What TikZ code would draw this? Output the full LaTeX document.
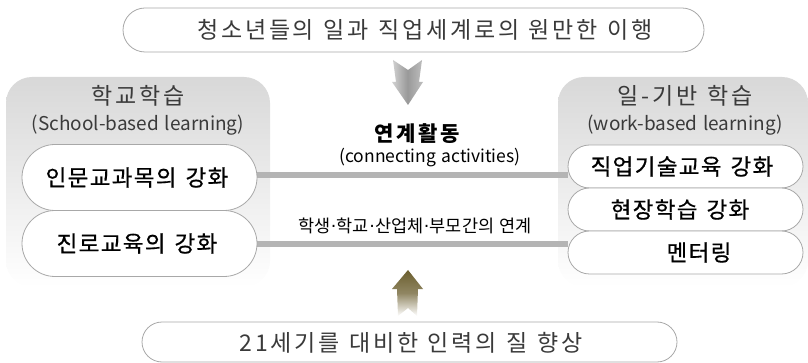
\documentclass[tikz,border=0pt]{standalone}
\usepackage{fontspec}
\setmainfont{Noto Sans CJK KR}
\newfontfamily\krs[LetterSpace=12]{Noto Sans CJK KR}
\newfontfamily\krb[LetterSpace=6,FakeBold=0.7]{Noto Sans CJK KR}
\newfontfamily\krn{Noto Sans CJK KR}
\newfontfamily\dv{DejaVu Sans}
\usetikzlibrary{shapes.misc}
\pgfdeclarelayer{back}
\pgfdeclarelayer{mid}
\pgfsetlayers{back,mid,main}
\definecolor{bordergray}{HTML}{A8A8A8}
\definecolor{bargray}{HTML}{B4B4B4}
\definecolor{boxtop}{HTML}{D8D8D8}
\definecolor{olivebr}{HTML}{6B5E2E}
\definecolor{txt}{HTML}{3A3A3A}
\newcommand\wsp[1]{\spaceskip=#1em\relax}
\newcommand\mdot{{\dv\kern0.02em·\kern0.02em}}
\tikzset{
  pill/.style={draw=bordergray, line width=0.8pt, fill=white, rounded rectangle, inner sep=0pt, text=txt},
  grp/.style={rounded corners=26pt, top color=boxtop, bottom color=white, draw=none, inner sep=0pt},
  ttl/.style={text=txt, inner sep=0pt, font=\krs\fontsize{23pt}{26pt}\selectfont, execute at begin node={\wsp{0.42}}},
  subttl/.style={text=txt, inner sep=0pt, font=\krn\fontsize{19pt}{22pt}\selectfont, execute at begin node={\wsp{0.3}}},
  pilltxt/.style={text=black, inner sep=0pt, font=\krb\fontsize{22.5pt}{24pt}\selectfont, execute at begin node={\wsp{0.4}}},
  boldtxt/.style={text=black, inner sep=0pt, font=\krs\bfseries\fontsize{21pt}{23pt}\selectfont, execute at begin node={\wsp{0.4}}},
  midtxt/.style={text=black, inner sep=0pt, font=\krn\fontsize{17.5pt}{19pt}\selectfont, execute at begin node={\wsp{0.3}}},
  bar/.style={draw=bargray, line width=6pt}
}
\begin{document}
\begin{tikzpicture}[x=1pt,y=-1pt]
\useasboundingbox (0,0) rectangle (808,363);
% top and bottom pills
\node[pill, minimum width=581pt, minimum height=44pt] (top) at (413.5,30) {};
\node[ttl] (toptxt) at (425,30) {청소년들의 일과 직업세계로의 원만한 이행};
\node[pill, minimum width=535pt, minimum height=40pt] (bot) at (409.5,342) {};
\node[ttl] (bottxt) at (411,343) {21세기를 대비한 인력의 질 향상};
% group boxes
\begin{pgfonlayer}{back}
\node[grp, minimum width=264pt, minimum height=210pt] (lg) at (138,182) {};
\node[grp, minimum width=250pt, minimum height=210pt] (rg) at (683,182) {};
\end{pgfonlayer}
\node[ttl] (lt) at (138,96) {학교학습};
\node[subttl] (ls) at (138,125) {(School-based learning)};
\node[ttl] (rt) at (685,96) {일-기반 학습};
\node[subttl] (rs) at (685,125) {(work-based learning)};
% left pills
\node[pill, minimum width=235pt, minimum height=66pt] (l1) at (139.5,177.5) {};
\node[pilltxt] (l1t) at (137,177.5) {인문교과목의 강화};
\node[pill, minimum width=235pt, minimum height=66pt] (l2) at (139.5,243.5) {};
\node[pilltxt] (l2t) at (137,243.5) {진로교육의 강화};
% right pills
\node[pill, minimum width=235pt, minimum height=43pt] (r1) at (685.5,166.5) {};
\node[pilltxt] (r1t) at (682,166.5) {직업기술교육 강화};
\node[pill, minimum width=235pt, minimum height=43pt] (r2) at (685.5,209.5) {};
\node[pilltxt] (r2t) at (680,209.5) {현장학습 강화};
\node[pill, minimum width=235pt, minimum height=43pt] (r3) at (685.5,252.5) {};
\node[pilltxt] (r3t) at (699,252.5) {멘터링};
% connectors
\begin{pgfonlayer}{mid}
\draw[bar] ([yshift=2.5pt]l1.east) -- ([yshift=-8.5pt]r1.west);
\draw[bar] ([yshift=-0.5pt]l2.east) -- ([yshift=8.5pt]r3.west);
\end{pgfonlayer}
% middle labels
\node[boldtxt] (m1) at (417,134) {연계활동};
\node[midtxt] (m2) at (430,158) {(connecting activities)};
\node[midtxt] (m3) at (415,226) {학생\mdot 학교\mdot 산업체\mdot 부모간의 연계};
% block arrows
\shade[left color=gray!35, right color=gray!50, middle color=gray!80]
  (393,60) -- (408,70) -- (422,60) -- (419,82) -- (423,82) -- (408,105) -- (392,82) -- (396,82) -- cycle;
\shade[top color=olivebr, bottom color=white, middle color=olivebr!75]
  (408,270) -- (423,289) -- (418,289) -- (417,316) -- (408,308) -- (398,316) -- (397,289) -- (392,289) -- cycle;
\end{tikzpicture}
\end{document}
